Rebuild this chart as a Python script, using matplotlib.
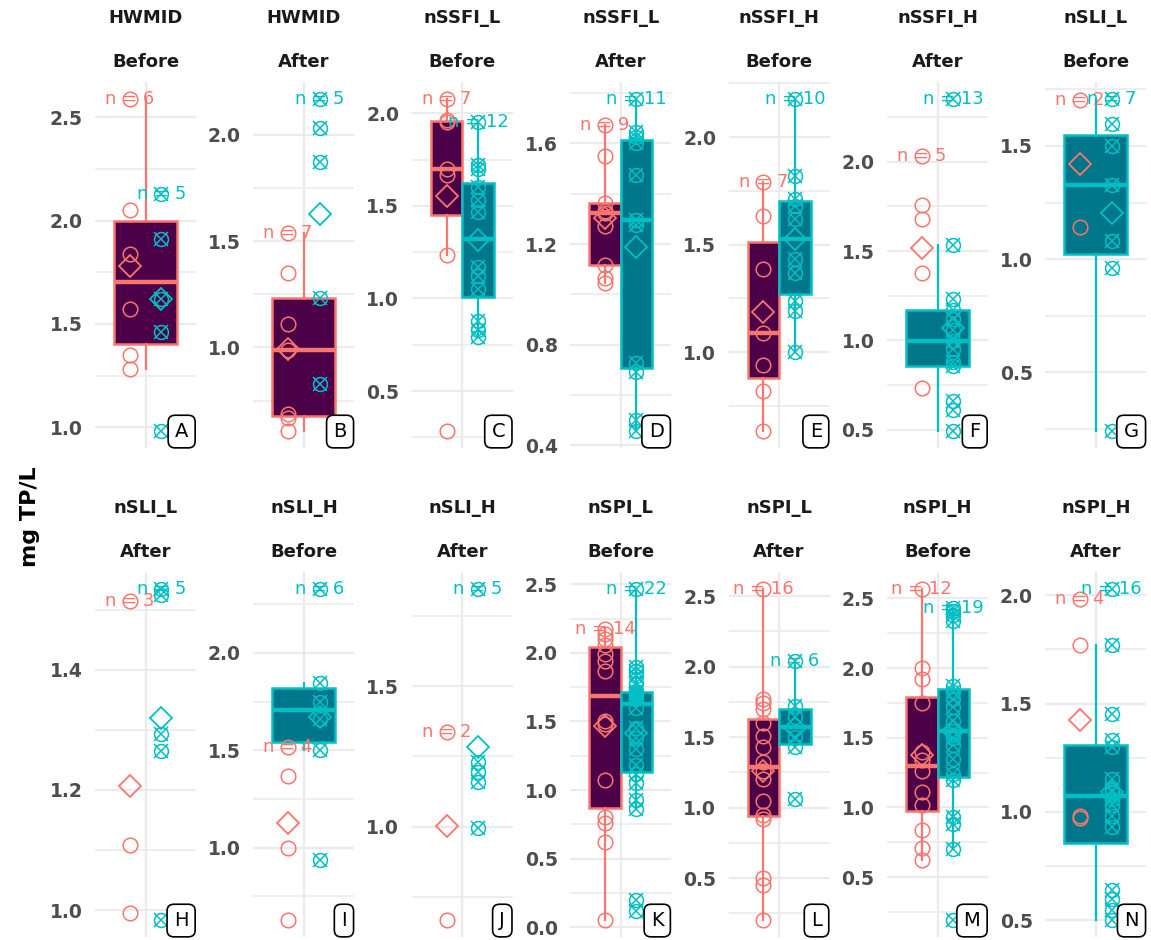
import matplotlib
matplotlib.use("Agg")
import matplotlib.pyplot as plt
from matplotlib.ticker import MultipleLocator, FormatStrFormatter
import numpy as np

plt.rcParams['font.family'] = ['DejaVu Sans']
plt.rcParams['font.weight'] = 'bold'

# ---------------- data ----------------
metrics = ["HWMID", "HWMID", "nSSFI_L", "nSSFI_L", "nSSFI_H", "nSSFI_H", "nSLI_L",
           "nSLI_L", "nSLI_H", "nSLI_H", "nSPI_L", "nSPI_L", "nSPI_H", "nSPI_H"]
periods = ["Before", "After"] * 7
letters = list("ABCDEFGHIJKLMN")

red_A = [2.59, 2.05, 1.84, 1.57, 1.35, 1.28]
teal_A = [2.13, 1.91, 1.62, 1.46, 0.98]
red_B = [1.54, 1.35, 1.11, 0.99, 0.685, 0.67, 0.605]
teal_B = [2.17, 2.03, 1.87, 1.23, 0.83]
red_C = [2.08, 1.963, 1.955, 1.70, 1.665, 1.235, 0.282]
teal_C = [1.955, 1.72, 1.70, 1.60, 1.53, 1.47, 1.17, 1.12, 1.05, 0.88, 0.83, 0.79]
red_D = [1.672, 1.548, 1.364, 1.33, 1.322, 1.27, 1.115, 1.065, 1.045]
teal_D = [1.778, 1.645, 1.626, 1.60, 1.476, 1.296, 1.275, 0.726, 0.69, 0.50, 0.455]
red_E = [1.79, 1.635, 1.385, 1.09, 0.942, 0.818, 0.631]
teal_E = [2.179, 1.821, 1.71, 1.681, 1.619, 1.432, 1.37, 1.238, 1.19, 1.0]
red_F = [2.03, 1.757, 1.682, 1.376, 0.733]
teal_F = [2.354, 1.532, 1.23, 1.169, 1.12, 1.06, 0.996, 0.95, 0.88, 0.855, 0.66, 0.61, 0.49]
red_G = [1.701, 1.142]
teal_G = [1.709, 1.597, 1.50, 1.328, 1.082, 0.962, 0.24]
red_H = [1.514, 1.108, 0.996]
teal_H = [1.535, 1.524, 1.293, 1.265, 0.983]
red_I = [1.518, 1.368, 0.997, 0.626]
teal_I = [2.33, 1.843, 1.75, 1.66, 1.50, 0.937]
red_J = [1.336, 0.665]
teal_J = [1.849, 1.229, 1.194, 1.158, 0.994]
red_K = [2.17, 2.14, 2.10, 2.06, 1.99, 1.94, 1.87, 1.50, 1.48, 1.07, 0.80, 0.76, 0.62, 0.05]
teal_K = [2.468, 1.90, 1.87, 1.83, 1.78, 1.72, 1.71, 1.70, 1.69, 1.67, 1.66, 1.60,
          1.45, 1.38, 1.30, 1.18, 1.12, 1.05, 0.93, 0.86, 0.20, 0.12]
red_L = [2.553, 1.77, 1.74, 1.70, 1.60, 1.51, 1.43, 1.32, 1.26, 1.20, 1.05, 0.95,
         0.92, 0.50, 0.45, 0.20]
teal_L = [2.036, 1.72, 1.64, 1.50, 1.43, 1.06]
red_M = [2.57, 2.0, 1.92, 1.75, 1.40, 1.34, 1.26, 1.11, 1.02, 0.84, 0.71, 0.62]
teal_M = [2.43, 2.41, 2.38, 2.34, 1.87, 1.83, 1.78, 1.72, 1.62, 1.55, 1.50, 1.45,
          1.35, 1.24, 1.20, 0.93, 0.88, 0.70, 0.19]
red_N = [1.98, 1.77, 0.98, 0.97]
teal_N = [2.03, 1.77, 1.45, 1.33, 1.30, 1.15, 1.10, 1.09, 1.06, 1.03, 0.98, 0.93,
          0.64, 0.60, 0.55, 0.50]

red_groups = [red_A, red_B, red_C, red_D, red_E, red_F, red_G,
              red_H, red_I, red_J, red_K, red_L, red_M, red_N]
teal_groups = [teal_A, teal_B, teal_C, teal_D, teal_E, teal_F, teal_G,
               teal_H, teal_I, teal_J, teal_K, teal_L, teal_M, teal_N]
red_has_box = [True, True, True, True, True, False, False,
               False, False, False, True, True, True, False]
teal_has_box = [False, False, True, True, True, True, True,
                False, True, False, True, True, True, True]
tick_step = [0.5, 0.5, 0.5, 0.4, 0.5, 0.5, 0.5,
             0.2, 0.5, 0.5, 0.5, 0.5, 0.5, 0.5]

# ---------------- style ----------------
RED, TEAL = "#F8766D", "#00BFC4"
RED_FILL, TEAL_FILL = "#4B0048", "#00768A"
GRID = "#EBEBEB"
W, H = 1151, 940

fig = plt.figure(figsize=(W / 100, H / 100), dpi=100)

row_top = [82, 572]
row_bot = [448, 937]
strip_y1 = [18, 508]
strip_y2 = [62, 552]
pw = 101
DODGE = 0.1875


def draw_box(ax, vals, pos, width, edge, fill):
    bp = ax.boxplot([vals], positions=[pos], widths=width, patch_artist=True,
                    showfliers=False, showcaps=False, whis=1.5, manage_ticks=False,
                    boxprops=dict(facecolor=fill, edgecolor=edge, linewidth=1.8),
                    medianprops=dict(color=edge, linewidth=3.2),
                    whiskerprops=dict(color=edge, linewidth=1.6))
    for art in bp['boxes'] + bp['medians'] + bp['whiskers']:
        art.set_zorder(2)


for i in range(14):
    r, c = divmod(i, 7)
    left = 95 + 158.4 * c
    top, bot = row_top[r], row_bot[r]
    ax = fig.add_axes([left / W, 1 - bot / H, pw / W, (bot - top) / H])
    red = np.array(red_groups[i])
    teal = np.array(teal_groups[i])
    allv = np.concatenate([red, teal])
    lo, hi = allv.min(), allv.max()
    pad = 0.05 * (hi - lo)
    ax.set_ylim(lo - pad, hi + pad)
    ax.set_xlim(-0.6, 0.6)

    # boxes
    both = red_has_box[i] and teal_has_box[i]
    if red_has_box[i]:
        draw_box(ax, red, -DODGE if both else 0.0, 0.375 if both else 0.75, RED, RED_FILL)
    if teal_has_box[i]:
        draw_box(ax, teal, DODGE if both else 0.0, 0.375 if both else 0.75, TEAL, TEAL_FILL)

    # points
    ax.plot(np.full(len(red), -DODGE), red, ls='none', marker='o', ms=10.5,
            mfc='none', mec=RED, mew=1.1, zorder=3)
    ax.plot(np.full(len(teal), DODGE), teal, ls='none', marker='o', ms=10,
            mfc='none', mec=TEAL, mew=1.1, zorder=3)
    ax.plot(np.full(len(teal), DODGE), teal, ls='none', marker='x', ms=9.5,
            mec=TEAL, mew=1.1, zorder=3)

    # means
    ax.plot([-DODGE], [red.mean()], ls='none', marker='D', ms=11, mfc='none',
            mec=RED, mew=1.3, zorder=4)
    ax.plot([DODGE], [teal.mean()], ls='none', marker='D', ms=11, mfc='none',
            mec=TEAL, mew=1.3, zorder=4)

    # n labels
    ax.text(-DODGE, red.max(), f"n = {len(red)}", color=RED, ha='center',
            va='center', fontsize=13, fontweight='normal', zorder=5)
    ax.text(DODGE, teal.max(), f"n = {len(teal)}", color=TEAL, ha='center',
            va='center', fontsize=13, fontweight='normal', zorder=5)

    # grid / axes
    ax.set_xticks([0])
    ax.set_xticklabels([])
    ax.yaxis.set_major_locator(MultipleLocator(tick_step[i]))
    ax.yaxis.set_minor_locator(MultipleLocator(tick_step[i] / 2))
    ax.yaxis.set_major_formatter(FormatStrFormatter('%.1f'))
    ax.grid(True, which='major', color=GRID, lw=1.6, zorder=0)
    ax.grid(True, which='minor', axis='y', color=GRID, lw=1.2, zorder=0)
    ax.set_axisbelow(True)
    for s in ax.spines.values():
        s.set_visible(False)
    ax.tick_params(axis='both', which='both', length=0)
    ax.tick_params(axis='y', pad=9, labelsize=13.5, labelcolor='#4D4D4D')
    ax.set_facecolor('none')

    # panel letter
    ax.annotate(letters[i], xy=(1, 0), xycoords='axes fraction',
                xytext=(-5.5, 5.0), textcoords='offset points', ha='right',
                va='bottom', fontsize=14, fontweight='normal', color='black',
                bbox=dict(boxstyle='round,pad=0.35', fc='white', ec='black', lw=1.2),
                zorder=6, annotation_clip=False)

    # strips
    xc = (left + pw / 2) / W
    fig.text(xc, 1 - strip_y1[r] / H, metrics[i], ha='center', va='center',
             fontsize=13, color='#1A1A1A')
    fig.text(xc, 1 - strip_y2[r] / H, periods[i], ha='center', va='center',
             fontsize=13, color='#1A1A1A')

fig.text(30 / W, 1 - 517 / H, "mg TP/L", rotation=90, ha='center', va='center',
         fontsize=16, color='black')

fig.savefig("out.png", dpi=100)
